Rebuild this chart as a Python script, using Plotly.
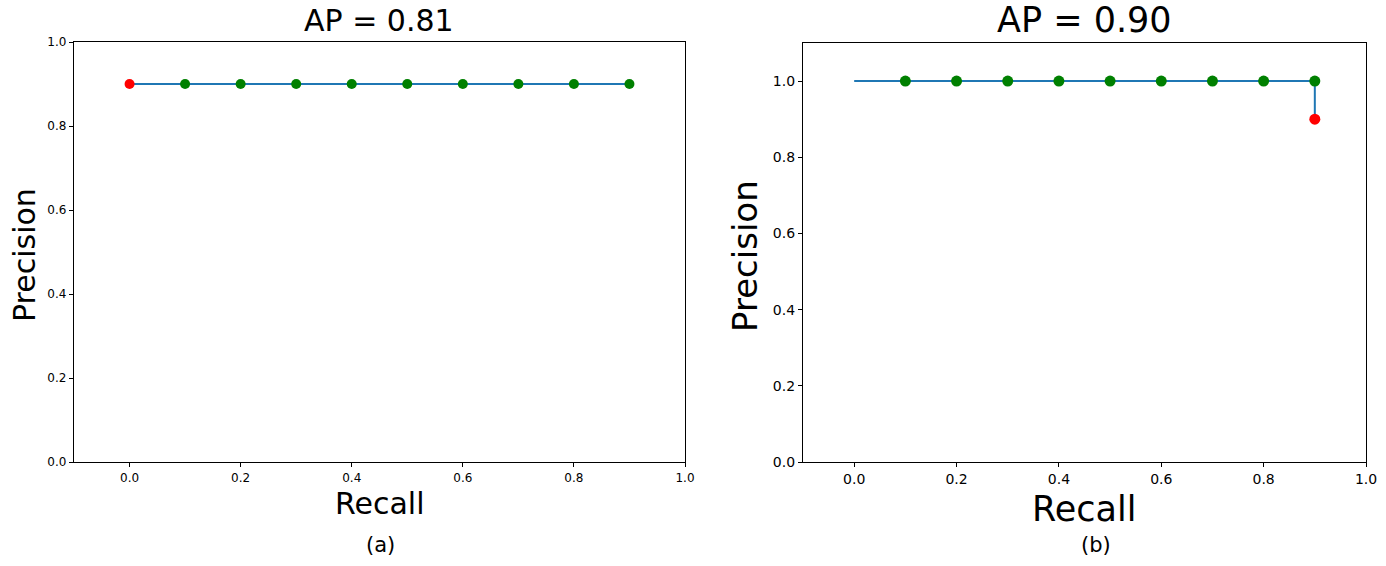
import plotly.graph_objects as go

# (a) precision-recall curve
recall_a = [0.0, 0.1, 0.2, 0.3, 0.4, 0.5, 0.6, 0.7, 0.8, 0.9]
precision_a = [0.9, 0.9, 0.9, 0.9, 0.9, 0.9, 0.9, 0.9, 0.9, 0.9]
hit_a = [False, True, True, True, True, True, True, True, True, True]

# (b) interpolated curve plus the ranked points
curve_recall_b = [0.0, 0.9, 0.9]
curve_precision_b = [1.0, 1.0, 0.9]
recall_b = [0.1, 0.2, 0.3, 0.4, 0.5, 0.6, 0.7, 0.8, 0.9, 0.9]
precision_b = [1.0, 1.0, 1.0, 1.0, 1.0, 1.0, 1.0, 1.0, 1.0, 0.9]
hit_b = [True, True, True, True, True, True, True, True, True, False]

ap_a = 0.81
ap_b = 0.90
tick_vals = [0.0, 0.2, 0.4, 0.6, 0.8, 1.0]

W, H = 1386, 566
FONT = "DejaVu Sans"
BLUE = "#1f77b4"


def px_x(v):
    return v / W


def px_y(v):
    return 1 - v / H


fig = go.Figure()

# left
fig.add_trace(go.Scatter(x=recall_a, y=precision_a, mode="lines",
                         line=dict(color=BLUE, width=2), xaxis="x", yaxis="y"))
fig.add_trace(go.Scatter(
    x=recall_a, y=precision_a, mode="markers", xaxis="x", yaxis="y",
    marker=dict(size=10, color=["green" if h else "red" for h in hit_a])))

# right
fig.add_trace(go.Scatter(x=curve_recall_b, y=curve_precision_b, mode="lines",
                         line=dict(color=BLUE, width=2), xaxis="x2", yaxis="y2"))
fig.add_trace(go.Scatter(
    x=recall_b, y=precision_b, mode="markers", xaxis="x2", yaxis="y2",
    marker=dict(size=11, color=["green" if h else "red" for h in hit_b])))

axis_common = dict(showline=True, linecolor="black", linewidth=1.3, mirror=True,
                   ticks="outside", ticklen=4, tickcolor="black",
                   showgrid=False, zeroline=False, tickvals=tick_vals,
                   tickformat=".1f", automargin=False)

fig.update_layout(
    width=W, height=H,
    margin=dict(l=0, r=0, t=0, b=0),
    plot_bgcolor="white", paper_bgcolor="white",
    showlegend=False,
    font=dict(family=FONT, color="black"),
    xaxis=dict(axis_common, domain=[px_x(74), px_x(685)], range=[-0.1, 1.0],
               anchor="y", tickfont=dict(size=12)),
    yaxis=dict(axis_common, domain=[px_y(462), px_y(42)], range=[0, 1.0],
               anchor="x", tickfont=dict(size=12)),
    xaxis2=dict(axis_common, domain=[px_x(803), px_x(1366)], range=[-0.1, 1.0],
                anchor="y2", tickfont=dict(size=14)),
    yaxis2=dict(axis_common, domain=[px_y(462), px_y(43)], range=[0, 1.1],
                anchor="x2", tickfont=dict(size=14)),
)

annots = [
    dict(text=f"AP = {ap_a:.2f}", x=px_x(379), y=px_y(20), size=30, angle=0),
    dict(text="Recall", x=px_x(380), y=px_y(503), size=30, angle=0),
    dict(text="Precision", x=px_x(24), y=px_y(255), size=30, angle=-90),
    dict(text="(a)", x=px_x(380), y=px_y(545), size=21, angle=0),
    dict(text=f"AP = {ap_b:.2f}", x=px_x(1084), y=px_y(20), size=35, angle=0),
    dict(text="Recall", x=px_x(1084), y=px_y(509), size=35, angle=0),
    dict(text="Precision", x=px_x(745), y=px_y(256), size=34, angle=-90),
    dict(text="(b)", x=px_x(1096), y=px_y(545), size=21, angle=0),
]
for a in annots:
    fig.add_annotation(text=a["text"], x=a["x"], y=a["y"], xref="paper", yref="paper",
                       showarrow=False, textangle=a["angle"],
                       xanchor="center", yanchor="middle",
                       font=dict(size=a["size"], family=FONT, color="black"))

# the page body has a default 8px margin; drop it so the figure sits at (0, 0)
fig.write_html("out.html", config={"displayModeBar": False},
               post_script="document.body.style.margin='0px';")
